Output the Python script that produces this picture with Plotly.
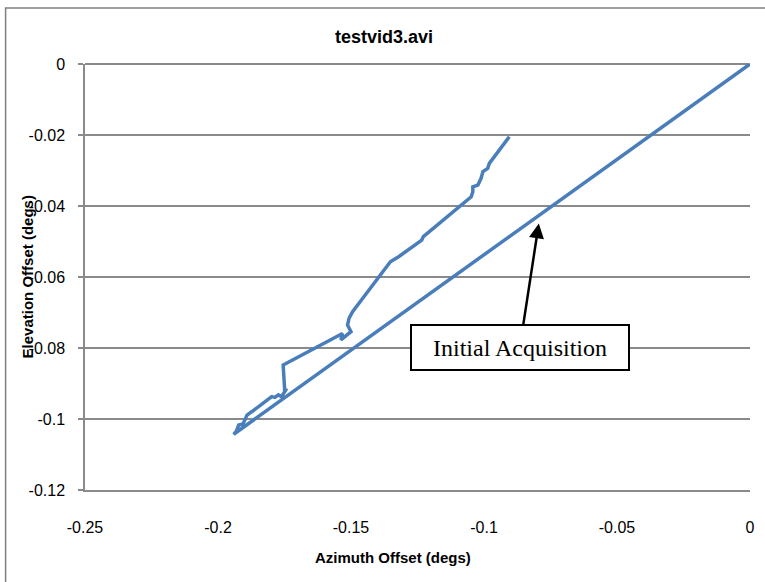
import plotly.graph_objects as go

# Tracking path: starts at origin (initial acquisition), then tracks back up
az = [0.0, -0.1941, -0.1931, -0.1922, -0.1906, -0.1891, -0.1872, -0.1798, -0.1786,
      -0.1773, -0.1761, -0.1749, -0.1742, -0.1749, -0.1755, -0.1532, -0.1538, -0.1500,
      -0.1513, -0.1507, -0.1494, -0.1401, -0.1352, -0.1321, -0.1277, -0.1259, -0.1234,
      -0.1228, -0.1048, -0.1042, -0.1042, -0.1023, -0.1011, -0.1004, -0.0986, -0.0980,
      -0.0905]
el = [0.0, -0.1043, -0.1034, -0.1017, -0.1014, -0.0989, -0.0979, -0.0937, -0.0939,
      -0.0932, -0.0937, -0.0923, -0.0914, -0.0923, -0.0848, -0.0759, -0.0777, -0.0754,
      -0.0735, -0.0716, -0.0698, -0.0607, -0.0557, -0.0543, -0.0519, -0.0507, -0.0496,
      -0.0486, -0.0374, -0.0360, -0.0346, -0.0341, -0.0322, -0.0303, -0.0294, -0.0280,
      -0.0205]

x_tickvals = [-0.25, -0.2, -0.15, -0.1, -0.05, 0]
x_ticktext = ["-0.25", "-0.2", "-0.15", "-0.1", "-0.05", "0"]
y_tickvals = [0, -0.02, -0.04, -0.06, -0.08, -0.1, -0.12]
y_ticktext = ["0", "-0.02", "-0.04", "-0.06", "-0.08", "-0.1", "-0.12"]

arrow_tip = (-0.0794, -0.0449)

W, H = 765, 582
L, R, T, B = 85, 10, 64, 92
pw, ph = W - L - R, H - T - B

def px_x(p):
    return (p - L) / pw

def px_y(p):
    return (H - B - p) / ph

grid = "#8a8a8a"
font_sans = "Liberation Sans, Arial, sans-serif"

fig = go.Figure()
fig.add_trace(go.Scatter(x=az, y=el, mode="lines",
                         line=dict(color="#4a7ebb", width=3.5),
                         showlegend=False, hoverinfo="skip"))

fig.update_layout(
    width=W, height=H,
    margin=dict(l=L, r=R, t=T, b=B),
    paper_bgcolor="white", plot_bgcolor="white",
    title=dict(text="<b>testvid3.avi</b>", x=384 / W, xref="container",
               y=1 - 37 / H, yref="container", xanchor="center", yanchor="middle",
               font=dict(family=font_sans, size=18, color="black")),
    xaxis=dict(range=[-0.25, 0], tickvals=x_tickvals, ticktext=x_ticktext,
               showgrid=False, zeroline=False, showline=True, linecolor=grid,
               linewidth=1.5, ticks="", ticklabelstandoff=22,
               tickfont=dict(family=font_sans, size=16, color="black")),
    yaxis=dict(range=[-0.12, 0], tickvals=y_tickvals, ticktext=y_ticktext,
               showgrid=True, gridcolor=grid, gridwidth=1.5,
               zeroline=True, zerolinecolor=grid, zerolinewidth=1.5,
               showline=True, linecolor=grid, linewidth=1.5,
               ticks="outside", ticklen=5, tickcolor=grid, tickwidth=1.5,
               ticklabelstandoff=10,
               tickfont=dict(family=font_sans, size=16, color="black")),
    shapes=[dict(type="rect", xref="paper", yref="paper",
                 x0=px_x(5), x1=px_x(775), y0=px_y(600), y1=px_y(8),
                 line=dict(color="#7f7f7f", width=1.5), fillcolor="rgba(0,0,0,0)",
                 layer="below")],
    annotations=[
        dict(text="<b>Azimuth Offset (degs)</b>", xref="paper", yref="paper",
             x=px_x(395), y=px_y(557), showarrow=False, xanchor="center",
             yanchor="middle", font=dict(family=font_sans, size=15, color="black")),
        dict(text="<b>Elevation Offset (degs)</b>", xref="paper", yref="paper",
             x=px_x(27), y=px_y(277), showarrow=False, textangle=-90,
             xanchor="center", yanchor="middle",
             font=dict(family=font_sans, size=15, color="black")),
        dict(text="Initial Acquisition", x=arrow_tip[0], y=arrow_tip[1],
             xref="x", yref="y", showarrow=True, ax=-19, ay=124,
             arrowhead=2, arrowsize=1.2, arrowwidth=2.5, arrowcolor="black",
             width=216, height=43, borderpad=0, bordercolor="black", borderwidth=2,
             bgcolor="white", align="center",
             font=dict(family="Liberation Serif, Times New Roman, serif", size=24,
                       color="black")),
    ],
)

fig.write_html("out.html", config={"displayModeBar": False},
               post_script="document.body.style.margin='0';document.body.style.overflow='hidden';")
